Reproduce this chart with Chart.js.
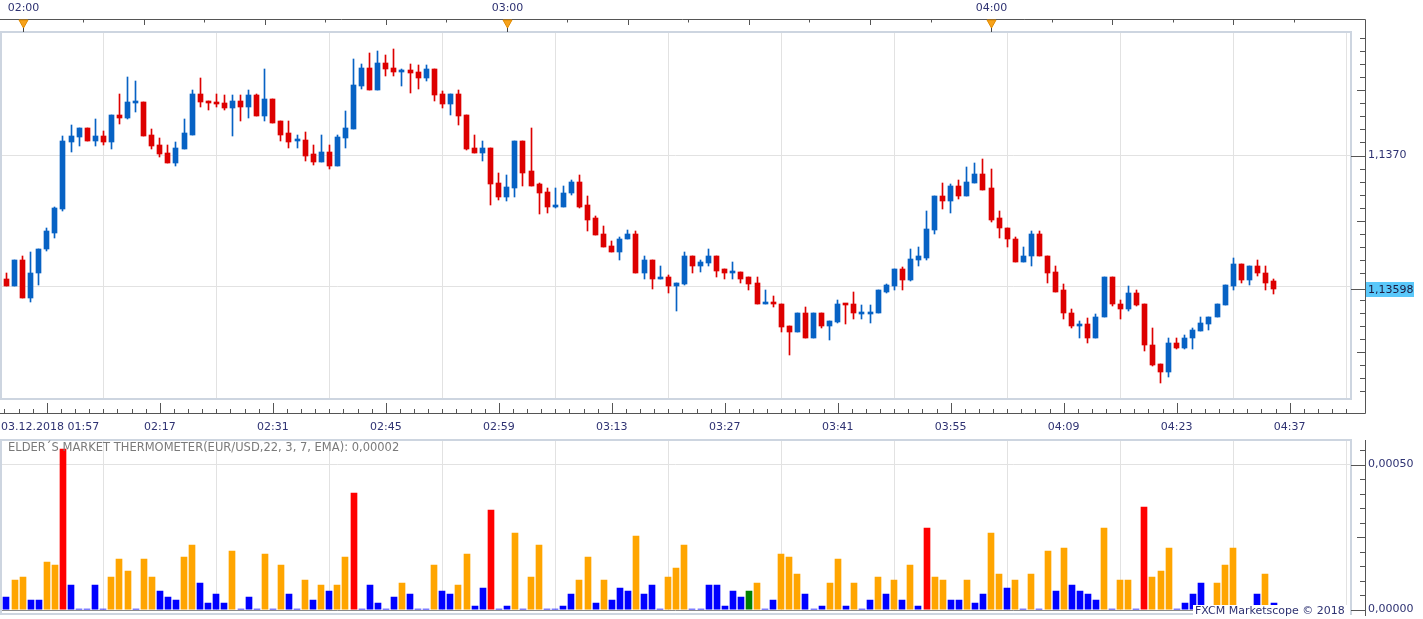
<!DOCTYPE html>
<html>
<head>
<meta charset="utf-8">
<title>EUR/USD 1 min</title>
<script src="https://cdn.jsdelivr.net/npm/chart.js@4.4.1/dist/chart.umd.min.js"></script>
<style>
  body { margin: 0; background: #fff; }
  #wrap { position: relative; width: 1423px; height: 619px; overflow: hidden; }
  #wrap canvas { position: absolute; left: 0; }
</style>
</head>
<body>
<div id="wrap">
  <canvas id="priceChart" width="1423" height="436" style="top:0"></canvas>
  <canvas id="thermoChart" width="1423" height="183" style="top:436px"></canvas>
</div>
<script>
// ========== Data (1 minute EUR/USD bars, 01:57 -> 04:35) ==========
const openPrices = [
  1.13611, 1.13606, 1.13600, 1.13620, 1.13591, 1.13610, 1.13629, 1.13641, 1.13659, 1.13710,
  1.13714, 1.13721, 1.13711, 1.13715, 1.13710, 1.13731, 1.13729, 1.13740, 1.13741, 1.13716,
  1.13708, 1.13702, 1.13694, 1.13705, 1.13716, 1.13747, 1.13742, 1.13741, 1.13740, 1.13736,
  1.13742, 1.13737, 1.13746, 1.13730, 1.13743, 1.13726, 1.13717, 1.13711, 1.13712, 1.13701,
  1.13695, 1.13703, 1.13692, 1.13713, 1.13720, 1.13753, 1.13767, 1.13750, 1.13771, 1.13767,
  1.13764, 1.13765, 1.13764, 1.13759, 1.13766, 1.13747, 1.13739, 1.13747, 1.13731, 1.13706,
  1.13702, 1.13706, 1.13679, 1.13668, 1.13675, 1.13711, 1.13688, 1.13678, 1.13672, 1.13661,
  1.13661, 1.13671, 1.13680, 1.13662, 1.13652, 1.13640, 1.13631, 1.13626, 1.13636, 1.13640,
  1.13610, 1.13620, 1.13606, 1.13607, 1.13600, 1.13602, 1.13623, 1.13616, 1.13618, 1.13623,
  1.13613, 1.13610, 1.13611, 1.13607, 1.13603, 1.13587, 1.13588, 1.13587, 1.13570, 1.13565,
  1.13580, 1.13561, 1.13580, 1.13570, 1.13573, 1.13587, 1.13587, 1.13579, 1.13579, 1.13580,
  1.13596, 1.13600, 1.13613, 1.13605, 1.13620, 1.13622, 1.13643, 1.13669, 1.13665, 1.13677,
  1.13669, 1.13679, 1.13686, 1.13675, 1.13652, 1.13645, 1.13636, 1.13619, 1.13623, 1.13640,
  1.13623, 1.13611, 1.13597, 1.13580, 1.13570, 1.13571, 1.13561, 1.13577, 1.13607, 1.13587,
  1.13583, 1.13595, 1.13587, 1.13555, 1.13541, 1.13535, 1.13557, 1.13553, 1.13561, 1.13566,
  1.13571, 1.13577, 1.13586, 1.13600, 1.13617, 1.13605, 1.13616, 1.13610, 1.13604
];
const highPrices = [
  1.13611, 1.13610, 1.13620, 1.13623, 1.13626, 1.13629, 1.13645, 1.13661, 1.13715, 1.13723,
  1.13721, 1.13721, 1.13728, 1.13719, 1.13731, 1.13747, 1.13760, 1.13757, 1.13741, 1.13720,
  1.13713, 1.13708, 1.13710, 1.13728, 1.13750, 1.13759, 1.13742, 1.13747, 1.13746, 1.13746,
  1.13746, 1.13750, 1.13747, 1.13766, 1.13743, 1.13726, 1.13726, 1.13716, 1.13718, 1.13708,
  1.13716, 1.13708, 1.13716, 1.13734, 1.13774, 1.13770, 1.13778, 1.13780, 1.13777, 1.13781,
  1.13766, 1.13770, 1.13769, 1.13769, 1.13766, 1.13749, 1.13747, 1.13750, 1.13731, 1.13716,
  1.13711, 1.13706, 1.13687, 1.13685, 1.13711, 1.13711, 1.13721, 1.13679, 1.13675, 1.13675,
  1.13677, 1.13681, 1.13685, 1.13669, 1.13654, 1.13646, 1.13635, 1.13638, 1.13643, 1.13642,
  1.13623, 1.13620, 1.13616, 1.13609, 1.13603, 1.13626, 1.13623, 1.13620, 1.13629, 1.13623,
  1.13613, 1.13619, 1.13611, 1.13607, 1.13607, 1.13597, 1.13593, 1.13587, 1.13570, 1.13580,
  1.13584, 1.13580, 1.13580, 1.13574, 1.13590, 1.13587, 1.13596, 1.13586, 1.13586, 1.13597,
  1.13602, 1.13613, 1.13615, 1.13629, 1.13630, 1.13658, 1.13669, 1.13679, 1.13678, 1.13681,
  1.13691, 1.13694, 1.13697, 1.13690, 1.13658, 1.13645, 1.13638, 1.13630, 1.13642, 1.13642,
  1.13623, 1.13616, 1.13602, 1.13583, 1.13574, 1.13576, 1.13579, 1.13607, 1.13607, 1.13590,
  1.13600, 1.13597, 1.13587, 1.13568, 1.13541, 1.13561, 1.13561, 1.13563, 1.13568, 1.13577,
  1.13577, 1.13587, 1.13601, 1.13622, 1.13617, 1.13616, 1.13620, 1.13616, 1.13606
];
const lowPrices = [
  1.13605, 1.13600, 1.13600, 1.13591, 1.13588, 1.13601, 1.13627, 1.13637, 1.13658, 1.13703,
  1.13707, 1.13711, 1.13707, 1.13708, 1.13705, 1.13724, 1.13728, 1.13733, 1.13715, 1.13705,
  1.13699, 1.13694, 1.13692, 1.13705, 1.13716, 1.13737, 1.13735, 1.13737, 1.13735, 1.13715,
  1.13726, 1.13729, 1.13730, 1.13726, 1.13725, 1.13711, 1.13706, 1.13706, 1.13696, 1.13693,
  1.13695, 1.13690, 1.13692, 1.13706, 1.13720, 1.13751, 1.13750, 1.13750, 1.13761, 1.13761,
  1.13753, 1.13748, 1.13751, 1.13757, 1.13742, 1.13736, 1.13731, 1.13723, 1.13704, 1.13702,
  1.13696, 1.13662, 1.13666, 1.13665, 1.13668, 1.13677, 1.13677, 1.13655, 1.13656, 1.13660,
  1.13661, 1.13670, 1.13660, 1.13642, 1.13639, 1.13630, 1.13626, 1.13620, 1.13636, 1.13610,
  1.13606, 1.13598, 1.13606, 1.13595, 1.13581, 1.13601, 1.13610, 1.13611, 1.13616, 1.13607,
  1.13606, 1.13606, 1.13603, 1.13597, 1.13587, 1.13587, 1.13584, 1.13565, 1.13548, 1.13565,
  1.13561, 1.13561, 1.13568, 1.13559, 1.13572, 1.13571, 1.13575, 1.13575, 1.13572, 1.13580,
  1.13595, 1.13597, 1.13597, 1.13604, 1.13616, 1.13620, 1.13640, 1.13659, 1.13656, 1.13667,
  1.13669, 1.13679, 1.13674, 1.13649, 1.13637, 1.13630, 1.13619, 1.13619, 1.13616, 1.13623,
  1.13603, 1.13596, 1.13575, 1.13568, 1.13561, 1.13557, 1.13561, 1.13577, 1.13585, 1.13575,
  1.13581, 1.13585, 1.13551, 1.13539, 1.13526, 1.13531, 1.13552, 1.13552, 1.13552, 1.13566,
  1.13567, 1.13577, 1.13586, 1.13597, 1.13603, 1.13601, 1.13608, 1.13597, 1.13594
];
const closePrices = [
  1.13605, 1.13600, 1.13620, 1.13591, 1.13610, 1.13629, 1.13642, 1.13660, 1.13711, 1.13715,
  1.13721, 1.13711, 1.13715, 1.13710, 1.13731, 1.13729, 1.13741, 1.13741, 1.13715, 1.13707,
  1.13701, 1.13694, 1.13706, 1.13717, 1.13747, 1.13741, 1.13740, 1.13739, 1.13736, 1.13742,
  1.13737, 1.13746, 1.13730, 1.13743, 1.13725, 1.13716, 1.13710, 1.13712, 1.13700, 1.13695,
  1.13703, 1.13692, 1.13714, 1.13721, 1.13754, 1.13767, 1.13750, 1.13771, 1.13766, 1.13764,
  1.13765, 1.13763, 1.13759, 1.13766, 1.13746, 1.13739, 1.13747, 1.13730, 1.13705, 1.13702,
  1.13706, 1.13678, 1.13668, 1.13676, 1.13711, 1.13687, 1.13677, 1.13671, 1.13661, 1.13662,
  1.13671, 1.13680, 1.13661, 1.13651, 1.13639, 1.13630, 1.13626, 1.13636, 1.13640, 1.13610,
  1.13620, 1.13606, 1.13607, 1.13600, 1.13603, 1.13623, 1.13616, 1.13619, 1.13623, 1.13612,
  1.13610, 1.13611, 1.13606, 1.13602, 1.13587, 1.13588, 1.13587, 1.13569, 1.13565, 1.13580,
  1.13561, 1.13580, 1.13570, 1.13574, 1.13587, 1.13586, 1.13580, 1.13580, 1.13580, 1.13597,
  1.13601, 1.13613, 1.13605, 1.13621, 1.13623, 1.13644, 1.13669, 1.13665, 1.13677, 1.13669,
  1.13680, 1.13686, 1.13674, 1.13651, 1.13645, 1.13636, 1.13619, 1.13623, 1.13640, 1.13623,
  1.13610, 1.13596, 1.13580, 1.13570, 1.13571, 1.13561, 1.13577, 1.13607, 1.13587, 1.13583,
  1.13595, 1.13586, 1.13555, 1.13540, 1.13535, 1.13557, 1.13553, 1.13561, 1.13567, 1.13572,
  1.13577, 1.13587, 1.13601, 1.13617, 1.13605, 1.13616, 1.13610, 1.13603, 1.13598
];

// Elder's market thermometer, one value per bar; b = blue, o = orange, r = red, g = green
const thermoValues = [
  0.00002, 0.0000425, 0.000101, 0.000111, 0.000032, 0.000032, 0.000163, 0.000153, 0.000553, 0.000084,
  0.000003, 0.000003, 0.000084, 0.000003, 0.000111, 0.000174, 0.000132, 0.000003, 0.000174, 0.000111,
  0.000063, 0.0000425, 0.000032, 0.00018, 0.000222, 0.000091, 0.000022, 0.000053, 0.000022, 0.000201,
  0.000003, 0.0000425, 0.000003, 0.000191, 0.000003, 0.000153, 0.000053, 0.000003, 0.000101, 0.000032,
  0.000084, 0.000063, 0.000084, 0.00018, 0.000401, 0.000003, 0.000084, 0.000022, 0.000003, 0.0000425,
  0.000091, 0.000053, 0.000003, 0.000003, 0.000153, 0.000063, 0.000053, 0.000084, 0.000191, 0.0000115,
  0.000074, 0.000343, 0.000003, 0.0000115, 0.000263, 0.000003, 0.000111, 0.000222, 0.000003, 0.000003,
  0.0000115, 0.000053, 0.000101, 0.00018, 0.000022, 0.000101, 0.000032, 0.000074, 0.000063, 0.000253,
  0.000053, 0.000084, 0.000003, 0.000111, 0.000143, 0.000222, 0.000003, 0.000003, 0.000084, 0.000084,
  0.0000115, 0.000063, 0.0000425, 0.000063, 0.000091, 0.000003, 0.000032, 0.000191, 0.00018, 0.000122,
  0.000053, 0.000003, 0.0000115, 0.000091, 0.000174, 0.0000115, 0.000091, 0.000003, 0.000032, 0.000111,
  0.000053, 0.000101, 0.000032, 0.000153, 0.0000115, 0.00028, 0.000111, 0.000101, 0.000032, 0.000032,
  0.000101, 0.000022, 0.000053, 0.000263, 0.000122, 0.000074, 0.000101, 0.000003, 0.000122, 0.000003,
  0.000201, 0.000063, 0.000211, 0.000084, 0.000063, 0.000053, 0.000032, 0.00028, 0.000003, 0.000101,
  0.000101, 0.000003, 0.000353, 0.000111, 0.000132, 0.000211, 0.000003, 0.000022, 0.000053, 0.000091,
  0.000003, 0.000091, 0.000153, 0.000211, 0.000003, 0.000003, 0.000053, 0.000122, 0.000022
];
const thermoColors = [
  'b','b','o','o','b','b','o','o','r','b',
  'b','b','b','b','o','o','o','b','o','o',
  'b','b','b','o','o','b','b','b','b','o',
  'b','b','b','o','b','o','b','b','o','b',
  'o','b','o','o','r','b','b','b','b','b',
  'o','b','b','b','o','b','b','o','o','b',
  'b','r','b','b','o','b','o','o','b','b',
  'b','b','o','o','b','o','b','b','b','o',
  'b','b','b','o','o','o','b','b','b','b',
  'b','b','b','g','o','b','b','o','o','o',
  'b','b','b','o','o','b','o','b','b','o',
  'b','o','b','o','b','r','o','o','b','b',
  'o','b','b','o','o','b','o','b','o','b',
  'o','b','o','b','b','b','b','o','b','o',
  'o','b','r','o','o','o','b','b','b','b',
  'b','o','o','o','b','b','b','o','b'
];

// Axis labels (positions are bar indices, bar 0 = 01:57)
const timeTickIdx = [6, 20, 34, 48, 62, 76, 90, 104, 118, 132, 146, 160];
const timeTickLabels = ['03.12.2018 01:57', '02:17', '02:31', '02:45', '02:59', '03:13',
                        '03:27', '03:41', '03:55', '04:09', '04:23', '04:37'];
const hourIdx = [3, 63, 123];
const hourLabels = ['02:00', '03:00', '04:00'];
const priceGrid = [1.1360, 1.1370];
const thermoGrid = [0.0005];

// ========== Styling ==========
const BLUE = '#0762c4';
const RED = '#dd0000';
const GRID = '#e2e2e2';
const FRAME = '#cdd5e0';
const AXIS = '#555555';
const TXT = '#2e3272';
const FONT = "11px 'DejaVu Sans', Verdana, sans-serif";
const AXIS_X = 1365;
const X_MIN = 0.195, X_MAX = 167.6;
const THERMO_COLORS = { b: '#0000ff', o: '#ffa500', r: '#ff0000', g: '#008000' };

const fmtComma = (v, d) => v.toFixed(d).replace('.', ',');
const candleColor = i => closePrices[i] >= openPrices[i] ? BLUE : RED;

function line(ctx, x1, y1, x2, y2) {
  ctx.beginPath();
  ctx.moveTo(x1, y1);
  ctx.lineTo(x2, y2);
  ctx.stroke();
}

// Snap bar elements to whole pixels so bodies and wicks stay crisp
const pixelSnap = {
  id: 'pixelSnap',
  afterDatasetsUpdate(chart) {
    chart.data.datasets.forEach((ds, di) => {
      chart.getDatasetMeta(di).data.forEach(el => {
        const odd = Math.round(el.width) % 2 === 1;
        el.x = odd ? Math.floor(el.x) + 0.5 : Math.round(el.x);
        el.y = Math.round(el.y);
        el.base = Math.round(el.base);
        if (Math.abs(el.base - el.y) < 1) el.y = el.base - 1;
      });
    });
  }
};

// Frame, axes and labels of the price panel
const priceFrame = {
  id: 'priceFrame',
  afterDraw(chart) {
    const ctx = chart.ctx, xs = chart.scales.x, ys = chart.scales.y, a = chart.chartArea;
    const last = closePrices[closePrices.length - 1];
    const lastY = Math.round(ys.getPixelForValue(last));
    ctx.save();

    ctx.strokeStyle = FRAME;
    ctx.lineWidth = 2;
    ctx.strokeRect(a.left + 1, a.top, a.right - a.left - 1, a.bottom - a.top);

    ctx.strokeStyle = AXIS;
    ctx.lineWidth = 1;
    line(ctx, 0, 19.5, AXIS_X + 0.5, 19.5);
    line(ctx, AXIS_X + 0.5, 19.5, AXIS_X + 0.5, 413.5);
    line(ctx, 0, 413.5, AXIS_X + 0.5, 413.5);

    // top time axis, a tick every 7.5 minutes
    for (let k = -1; k < 30; k++) {
      const px = Math.round(xs.getPixelForValue(3 + 7.5 * k)) + 0.5;
      if (px < 0 || px > a.right) continue;
      line(ctx, px, 19.5, px, k % 2 === 0 ? 25 : 22.5);
    }

    // bottom time axis, minor ticks every 1.75 minutes
    for (let k = -4; k < 100; k++) {
      const px = Math.round(xs.getPixelForValue(6 + 1.75 * k)) + 0.5;
      if (px < 0 || px > a.right) continue;
      line(ctx, px, 413.5, px, k % 8 === 0 ? 403 : 409);
    }

    // price axis ticks
    for (let k = 11350; k <= 11380; k++) {
      const py = Math.round(ys.getPixelForValue(k / 10000));
      if (py < a.top || py > a.bottom || Math.abs(py - lastY) < 4) continue;
      const x0 = k % 10 === 0 ? a.right : (k % 5 === 0 ? AXIS_X - 8 : AXIS_X - 5);
      line(ctx, x0, py + 0.5, AXIS_X, py + 0.5);
    }

    ctx.font = FONT;
    ctx.fillStyle = TXT;
    ctx.textBaseline = 'middle';

    ctx.textAlign = 'left';
    ctx.fillText(fmtComma(priceGrid[1], 4), AXIS_X + 3, ys.getPixelForValue(priceGrid[1]));

    timeTickIdx.forEach((v, i) => {
      if (i === 0) {
        ctx.textAlign = 'left';
        ctx.fillText(timeTickLabels[i], 1, 427);
      } else {
        ctx.textAlign = 'center';
        ctx.fillText(timeTickLabels[i], xs.getPixelForValue(v), 427);
      }
    });

    // hour markers on the top axis
    hourIdx.forEach((v, i) => {
      const px = Math.round(xs.getPixelForValue(v)) + 0.5;
      ctx.textAlign = 'center';
      ctx.fillStyle = TXT;
      ctx.fillText(hourLabels[i], px, 8);
      ctx.strokeStyle = '#444';
      line(ctx, px, 26, px, 32);
      ctx.beginPath();
      ctx.moveTo(px - 4.5, 20);
      ctx.lineTo(px + 4.5, 20);
      ctx.lineTo(px, 28);
      ctx.closePath();
      ctx.fillStyle = '#f7a21b';
      ctx.fill();
      ctx.strokeStyle = '#e08a00';
      ctx.stroke();
    });

    // last price tag
    ctx.strokeStyle = AXIS;
    line(ctx, a.right, lastY + 0.5, AXIS_X, lastY + 0.5);
    ctx.fillStyle = '#5ac8fa';
    ctx.fillRect(AXIS_X + 1, lastY - 7, 48, 15);
    ctx.fillStyle = '#1c1c40';
    ctx.textAlign = 'left';
    ctx.fillText(fmtComma(last, 5), AXIS_X + 3, lastY + 1);

    ctx.restore();
  }
};

// Frame, axes and labels of the thermometer panel
const thermoFrame = {
  id: 'thermoFrame',
  afterDraw(chart) {
    const ctx = chart.ctx, ys = chart.scales.y, a = chart.chartArea;
    ctx.save();

    const y0 = Math.round(ys.getPixelForValue(0)) + 0.5;
    ctx.strokeStyle = '#8a8a8a';
    ctx.lineWidth = 1;
    line(ctx, 0, y0, a.right, y0);

    ctx.strokeStyle = FRAME;
    ctx.lineWidth = 2;
    ctx.strokeRect(a.left + 1, a.top, a.right - a.left - 1, 178 - a.top);

    ctx.strokeStyle = AXIS;
    ctx.lineWidth = 1;
    line(ctx, AXIS_X + 0.5, 4, AXIS_X + 0.5, 180);
    for (let k = 0; k <= 11; k++) {
      const py = Math.round(ys.getPixelForValue(k * 0.00005)) + 0.5;
      const x0 = k % 10 === 0 ? a.right : (k % 5 === 0 ? AXIS_X - 8 : AXIS_X - 5);
      line(ctx, x0, py, AXIS_X, py);
    }

    ctx.font = FONT;
    ctx.textBaseline = 'middle';
    ctx.textAlign = 'left';
    ctx.fillStyle = TXT;
    ctx.fillText(fmtComma(thermoGrid[0], 5), AXIS_X + 3, ys.getPixelForValue(thermoGrid[0]));
    ctx.fillText(fmtComma(0, 5), AXIS_X + 3, ys.getPixelForValue(0));

    ctx.font = "11.5px 'DejaVu Sans', Verdana, sans-serif";
    ctx.fillStyle = '#7a7a7a';
    ctx.fillText('ELDER\u00B4S MARKET THERMOMETER(EUR/USD,22, 3, 7, EMA): ' +
                 fmtComma(0.00002, 5), 8, 12);

    ctx.font = FONT;
    ctx.fillStyle = '#fff';
    ctx.fillRect(1193, 169, 157, 14);
    ctx.fillStyle = TXT;
    ctx.fillText('FXCM Marketscope \u00A9 2018', 1195, 175);

    ctx.restore();
  }
};

function timeScale(height) {
  return {
    type: 'linear',
    min: X_MIN,
    max: X_MAX,
    offset: false,
    afterBuildTicks: s => { s.ticks = timeTickIdx.map(v => ({ value: v })); },
    afterFit: s => { s.height = height; },
    ticks: { display: false },
    grid: { color: GRID, drawTicks: false },
    border: { display: false }
  };
}

function valueScale(min, max, grid) {
  return {
    position: 'right',
    min: min,
    max: max,
    afterBuildTicks: s => { s.ticks = grid.map(v => ({ value: v })); },
    afterFit: s => { s.width = 72; },
    ticks: { display: false },
    grid: { color: GRID, drawTicks: false },
    border: { display: false }
  };
}

const baseOptions = {
  responsive: false,
  animation: false,
  devicePixelRatio: 1,
  plugins: { legend: { display: false }, tooltip: { enabled: false } }
};

new Chart(document.getElementById('priceChart'), {
  type: 'bar',
  data: {
    datasets: [
      {
        label: 'Wick',
        data: lowPrices.map((lo, i) => ({ x: i, y: [lo, highPrices[i]] })),
        backgroundColor: ctx => candleColor(ctx.dataIndex),
        barThickness: 1,
        grouped: false,
        order: 1
      },
      {
        label: 'Body',
        data: openPrices.map((o, i) => ({ x: i, y: [o, closePrices[i]] })),
        backgroundColor: ctx => candleColor(ctx.dataIndex),
        barThickness: 5,
        minBarLength: 2,
        grouped: false,
        order: 0
      }
    ]
  },
  options: {
    ...baseOptions,
    layout: { padding: { top: 32, left: 0, right: 0, bottom: 0 } },
    scales: {
      x: timeScale(37),
      y: valueScale(1.135141, 1.137943, priceGrid)
    }
  },
  plugins: [pixelSnap, priceFrame]
});

new Chart(document.getElementById('thermoChart'), {
  type: 'bar',
  data: {
    datasets: [{
      label: 'Thermometer',
      data: thermoValues.map((v, i) => ({ x: i, y: v })),
      backgroundColor: thermoColors.map(c => THERMO_COLORS[c]),
      barThickness: 6
    }]
  },
  options: {
    ...baseOptions,
    layout: { padding: { top: 4, left: 0, right: 0, bottom: 0 } },
    scales: {
      x: timeScale(9.5),
      y: valueScale(0, 0.0005845, thermoGrid)
    }
  },
  plugins: [pixelSnap, thermoFrame]
});
</script>
</body>
</html>
